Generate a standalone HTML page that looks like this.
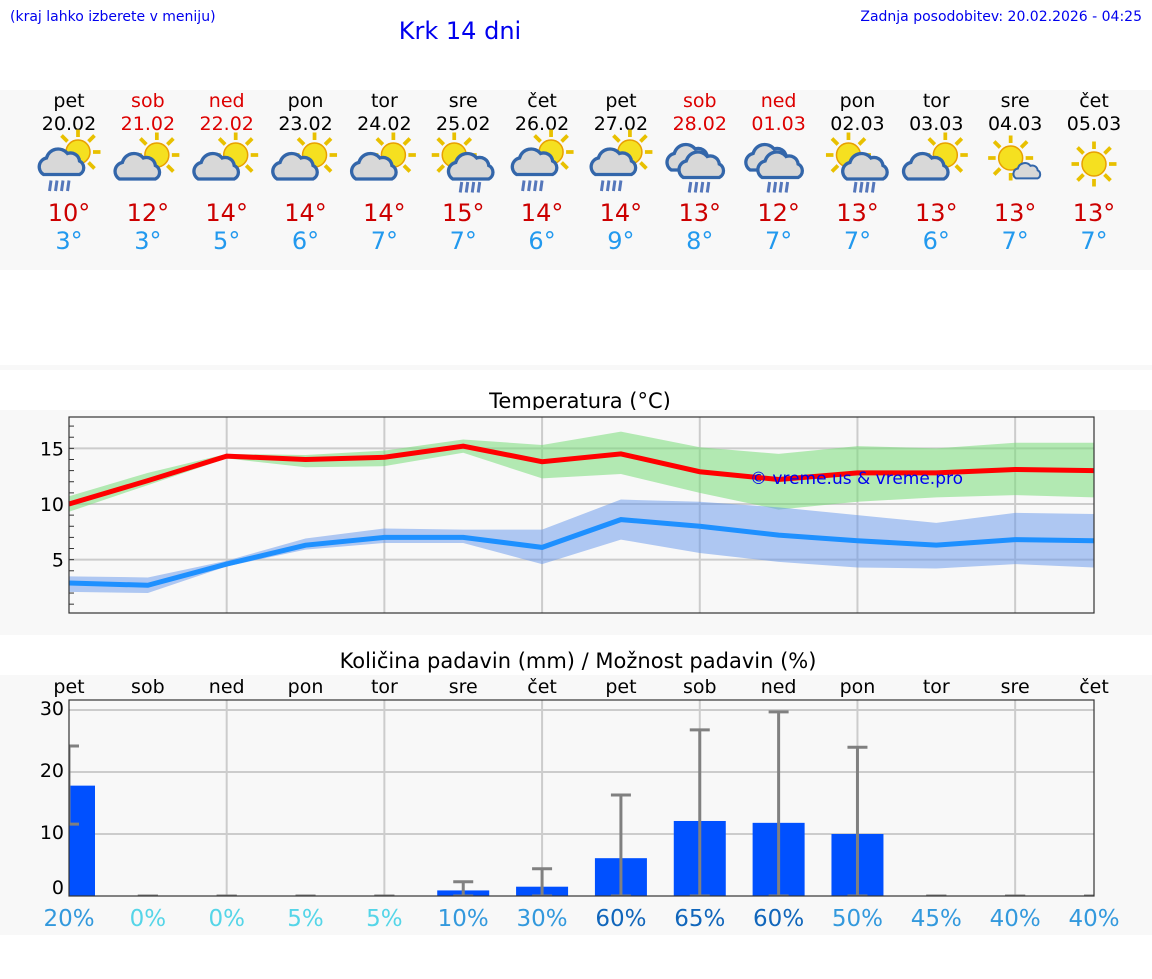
<!DOCTYPE html>
<html><head><meta charset="utf-8">
<style>
body{margin:0;background:#fff;width:1152px;height:975px;overflow:hidden;font-family:"DejaVu Sans","Liberation Sans",sans-serif;}
svg text{font-family:"DejaVu Sans","Liberation Sans",sans-serif;}
</style></head>
<body>
<svg id="s" width="1152" height="975" xmlns="http://www.w3.org/2000/svg">
<defs>
<g id="sun"><g stroke="#e8c000" stroke-width="2.5">
<line x1="0" y1="-15" x2="0" y2="-10"/><line x1="0" y1="15" x2="0" y2="10"/><line x1="-15" y1="0" x2="-10" y2="0"/><line x1="15" y1="0" x2="10" y2="0"/>
<line x1="-11" y1="-11" x2="-7" y2="-7"/><line x1="11" y1="11" x2="7" y2="7"/><line x1="-11" y1="11" x2="-7" y2="7"/><line x1="11" y1="-11" x2="7" y2="-7"/></g>
<circle r="8" fill="#f5e020" stroke="#e8a000" stroke-width="1"/></g>
<g id="cloud"><path d="M-14 6 a6 6 0 0 1 2-11 a8 8 0 0 1 14-3 a6 6 0 0 1 8 5 a5 5 0 0 1 0 9 z" fill="#d8d8d8" stroke="#3366aa" stroke-width="2.2"/></g>
<g id="rain" stroke="#5577bb" stroke-width="2"><line x1="-6" y1="0" x2="-7" y2="7"/><line x1="-2" y1="0" x2="-3" y2="7"/><line x1="2" y1="0" x2="1" y2="7"/><line x1="6" y1="0" x2="5" y2="7"/></g>
<g id="iA"><use href="#sun" x="6" y="-8"/><use href="#cloud" x="-3" y="1"/><use href="#rain" x="-6" y="11"/></g>
<g id="iB"><use href="#sun" x="6" y="-6"/><use href="#cloud" x="-5" y="4"/></g>
<g id="iC"><use href="#sun" x="-6" y="-6"/><use href="#cloud" x="7" y="4"/><use href="#rain" x="5" y="12"/></g>
<g id="iD"><use href="#cloud" x="-5" y="-2"/><use href="#cloud" x="3" y="3"/><use href="#rain" x="0" y="12"/></g>
<g id="iE"><use href="#sun" x="-3" y="-4"/><g transform="translate(9,6) scale(0.6)"><use href="#cloud"/></g></g>
<g id="iF"><use href="#sun" x="0" y="0"/></g>
</defs>
<text x="10" y="21" font-size="14" fill="#0000ee">(kraj lahko izberete v meniju)</text>
<text x="460" y="39" font-size="24" fill="#0000ee" text-anchor="middle">Krk 14 dni</text>
<text x="1142" y="21" font-size="14" fill="#0000ee" text-anchor="end">Zadnja posodobitev: 20.02.2026 - 04:25</text>
<rect x="0" y="90" width="1152" height="180" fill="#f8f8f8"/>
<rect x="0" y="365" width="1152" height="5" fill="#f8f8f8"/>
<text x="580" y="408" font-size="21" text-anchor="middle">Temperatura (°C)</text>
<rect x="0" y="410" width="1152" height="225" fill="#f8f8f8"/>
<text x="578" y="668" font-size="21" text-anchor="middle">Količina padavin (mm) / Možnost padavin (%)</text>
<rect x="0" y="675" width="1152" height="260" fill="#f8f8f8"/>
<g id="daily"></g>
<g id="temp"></g>
<g id="prec"></g>
</svg>
<script>
const days=["pet","sob","ned","pon","tor","sre","čet","pet","sob","ned","pon","tor","sre","čet"];
const dates=["20.02","21.02","22.02","23.02","24.02","25.02","26.02","27.02","28.02","01.03","02.03","03.03","04.03","05.03"];
const weekend=[0,1,1,0,0,0,0,0,1,1,0,0,0,0];
const icons=["A","B","B","B","B","C","A","A","D","D","C","B","E","F"];
const hiLabel=[10,12,14,14,14,15,14,14,13,12,13,13,13,13];
const loLabel=[3,3,5,6,7,7,6,9,8,7,7,6,7,7];
const tMax=[10,12.1,14.3,14,14.2,15.2,13.8,14.5,12.9,12.2,12.8,12.8,13.1,13.0];
const tMaxLo=[9.3,11.7,14.1,13.3,13.4,14.6,12.3,12.7,11.0,9.5,10.2,10.6,10.8,10.6];
const tMaxHi=[10.7,12.8,14.5,14.4,14.8,15.8,15.3,16.5,15.1,14.5,15.2,15.0,15.5,15.5];
const tMin=[2.9,2.7,4.6,6.3,7,7,6.1,8.6,8,7.2,6.7,6.3,6.8,6.7];
const tMinLo=[2.1,2.0,4.4,5.9,6.5,6.5,4.6,6.8,5.6,4.8,4.3,4.2,4.6,4.3];
const tMinHi=[3.5,3.4,4.9,6.9,7.8,7.7,7.7,10.4,10.2,9.7,9.0,8.3,9.2,9.1];
const tTicks=[5,10,15];
const precip=[17.8,0,0,0,0,0.9,1.5,6.1,12.1,11.8,10,0,0,0];
const precLo=[11.6,0,0,0,0,0,0,0,0,0,0,0,0,0];
const precHi=[24.2,0,0,0,0,2.3,4.4,16.3,26.8,29.7,24,0,0,0];
const chance=[20,0,0,5,5,10,30,60,65,60,50,45,40,40];
const pTicks=[0,10,20,30];
const NS="http://www.w3.org/2000/svg";
function mk(p,t,a,txt){const e=document.createElementNS(NS,t);for(const k in a)e.setAttribute(k,a[k]);if(txt!==undefined)e.textContent=txt;p.appendChild(e);return e;}
const X0=69,X1=1094;
const xs=i=>X0+(X1-X0)*i/(days.length-1);
const ty=v=>615.3-11.13*v;
const py=v=>896-6.2*v;
const D=document.getElementById('daily');
days.forEach((d,i)=>{
 const x=xs(i),c=weekend[i]?"#dd0000":"#000";
 let e=mk(D,'text',{x:x,y:107,'font-size':19,'text-anchor':'middle',fill:c},d);
 
 e=mk(D,'text',{x:x,y:130,'font-size':19,'text-anchor':'middle',fill:c},dates[i]);
 
 e=mk(D,'use',{href:'#i'+icons[i],transform:'translate('+x+',164) scale(1.5)'});
 
 e=mk(D,'text',{x:x,y:221,'font-size':24,'text-anchor':'middle',fill:'#cc0000'},hiLabel[i]+'°');
 
 e=mk(D,'text',{x:x,y:249,'font-size':24,'text-anchor':'middle',fill:'#2299ee'},loLabel[i]+'°');
 
});
const T=document.getElementById('temp');
const TT=417,TB=613;
for(let i=2;i<days.length;i+=2){mk(T,'line',{x1:xs(i),x2:xs(i),y1:TT,y2:TB,stroke:'#ccc','stroke-width':2});}
tTicks.forEach(v=>{mk(T,'line',{x1:X0,x2:X1,y1:ty(v),y2:ty(v),stroke:'#ccc','stroke-width':2});
 const e=mk(T,'text',{x:64,y:ty(v)+7,'font-size':19,'text-anchor':'end'},v);
 });
for(let v=1;v<=17;v++){mk(T,'line',{x1:X0,x2:X0+5,y1:ty(v),y2:ty(v),stroke:'#333','stroke-width':1});}
function band(lo,hi,col,name){let d='M'+lo.map((v,i)=>xs(i)+','+ty(v)).join('L');for(let i=hi.length-1;i>=0;i--)d+='L'+xs(i)+','+ty(hi[i]);
 const e=mk(T,'path',{d:d+'Z',fill:col});}
function line(a,col,name){const e=mk(T,'polyline',{points:a.map((v,i)=>xs(i)+','+ty(v)).join(' '),fill:'none',stroke:col,'stroke-width':5});
 }
band(tMaxLo,tMaxHi,'rgba(120,220,120,0.55)','max-temp-range');
band(tMinLo,tMinHi,'rgba(100,150,235,0.5)','min-temp-range');
line(tMax,'#ff0000','max-temp-line');
line(tMin,'#1e90ff','min-temp-line');
let w=mk(T,'text',{x:750,y:484,'font-size':17,fill:'#0000ee'},'© vreme.us & vreme.pro');

mk(T,'rect',{x:X0,y:TT,width:X1-X0,height:TB-TT,fill:'none',stroke:'#333','stroke-width':1.2});
const P=document.getElementById('prec');
const PT=700,PB=896;
for(let i=2;i<days.length;i+=2){mk(P,'line',{x1:xs(i),x2:xs(i),y1:PT,y2:PB,stroke:'#ccc','stroke-width':2});}
pTicks.forEach(v=>{if(v>0)mk(P,'line',{x1:X0,x2:X1,y1:py(v),y2:py(v),stroke:'#ccc','stroke-width':2});
 const e=mk(P,'text',{x:64,y:py(v)-2+(v===0?0:7),'font-size':19,'text-anchor':'end'},v);
 });
mk(P,'clipPath',{id:'pc'}).appendChild(document.createElementNS(NS,'rect'));
const cr=P.querySelector('#pc rect');cr.setAttribute('x',X0);cr.setAttribute('y',PT);cr.setAttribute('width',X1-X0);cr.setAttribute('height',PB-PT);
const G=mk(P,'g',{'clip-path':'url(#pc)'});
days.forEach((d,i)=>{
 const x=xs(i);
 let e=mk(P,'text',{x:x,y:693,'font-size':19,'text-anchor':'middle'},d);
 
 if(precip[i]>0){e=mk(G,'rect',{x:x-26,y:py(precip[i]),width:52,height:PB-py(precip[i]),fill:'#0050ff'});
  }
 e=mk(G,'g',{stroke:'#808080','stroke-width':3});
 
 mk(e,'line',{x1:x,x2:x,y1:py(precLo[i]),y2:py(precHi[i])});
 mk(e,'line',{x1:x-10,x2:x+10,y1:py(precHi[i]),y2:py(precHi[i])});
 mk(e,'line',{x1:x-10,x2:x+10,y1:py(precLo[i]),y2:py(precLo[i])});
 const col=chance[i]<=5?'#55d5e8':(chance[i]>=60?'#1166bb':'#3399dd');
 e=mk(P,'text',{x:x,y:926,'font-size':23,'text-anchor':'middle',fill:col},chance[i]+'%');
 
});
mk(P,'rect',{x:X0,y:PT,width:X1-X0,height:PB-PT,fill:'none',stroke:'#333','stroke-width':1.2});
</script>
</body></html>
